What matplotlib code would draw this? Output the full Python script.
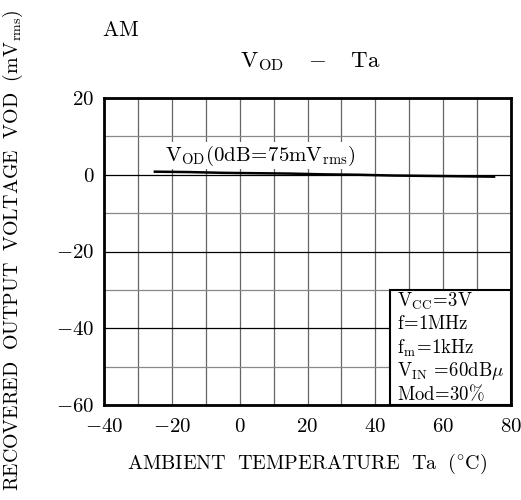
import matplotlib
matplotlib.use("Agg")
import matplotlib.pyplot as plt
from matplotlib.ticker import MultipleLocator
from matplotlib.patches import Rectangle

plt.rcParams['mathtext.fontset'] = 'cm'
plt.rcParams['font.family'] = ['cmr10', 'DejaVu Serif']
plt.rcParams['axes.formatter.use_mathtext'] = True

temp = [-25, -15, -5, 5, 15, 25, 35, 45, 55, 65, 75]
vod = [0.8, 0.7, 0.5, 0.4, 0.3, 0.1, 0.0, -0.2, -0.3, -0.4, -0.5]

xticks = [-40, -20, 0, 20, 40, 60, 80]
yticks = [-60, -40, -20, 0, 20]

cond_lines = [r'$\mathrm{V_{CC}\!=\!3V}$',
              r'$\mathrm{f\!=\!1MHz}$',
              r'$\mathrm{f_m\!=\!1kHz}$',
              r'$\mathrm{V_{IN}\ \!=\!60dB}\mu$',
              r'$\mathrm{Mod\!=\!30\%}$']

W, H = 521, 500
L, R, T, B = 104, 511, 98, 405
fig = plt.figure(figsize=(W/100, H/100), dpi=100)
ax = fig.add_axes([L/W, 1-B/H, (R-L)/W, (B-T)/H])

ax.set_xlim(-40, 80)
ax.set_ylim(-60, 20)
ax.set_xticks(xticks)
ax.set_yticks(yticks)
ax.xaxis.set_minor_locator(MultipleLocator(10))
ax.yaxis.set_minor_locator(MultipleLocator(10))
ax.tick_params(which='both', length=0, labelsize=15)
ax.tick_params(axis='x', pad=9)
ax.tick_params(axis='y', pad=7)
ax.grid(True, which='major', axis='y', color='black', lw=0.9)
ax.grid(True, which='minor', axis='y', color='#888888', lw=0.9)
ax.grid(True, which='both', axis='x', color='#666666', lw=0.9)
ax.set_axisbelow(True)
for s in ax.spines.values():
    s.set_linewidth(2)

ax.plot(temp, vod, color='black', lw=1.8)

ax.text(-22.0, 1.8, r'$\mathrm{V_{OD}(0dB\!=\!75mV_{rms})}$', fontsize=15,
        ha='left', va='bottom', bbox=dict(facecolor='white', edgecolor='none', pad=1))

bx0 = (390-L)/(R-L)
bh = (B-290)/(B-T)
ax.add_patch(Rectangle((bx0, 0), 1-bx0, bh, transform=ax.transAxes,
                       facecolor='white', edgecolor='black', lw=1.5, zorder=3))
ys = [301, 324, 348, 371, 394]
for yy, s in zip(ys, cond_lines):
    ax.text((397-L)/(R-L), (B-yy)/(B-T), s, transform=ax.transAxes,
            fontsize=13.5, ha='left', va='center', zorder=4)

ax.set_xlabel(r'$\mathrm{AMBIENT\ \ TEMPERATURE\ \ Ta\ \ (^{\circ}C)}$', fontsize=14.5, labelpad=12)
fig.text(0.024, 0.5, r'$\mathrm{RECOVERED\ \ OUTPUT\ \ VOLTAGE\ \ VOD\ \ (mV_{rms})}$',
         rotation=90, fontsize=14.3, ha='center', va='center')

fig.text(102/W, 1-30/H, r'$\mathrm{AM}$', fontsize=15.5, ha='left', va='center')
fig.text(310/W, 1-62/H, r'$\mathrm{V_{OD}\quad -\quad Ta}$', fontsize=16.5, ha='center', va='center')

fig.savefig('out.png', dpi=100)
